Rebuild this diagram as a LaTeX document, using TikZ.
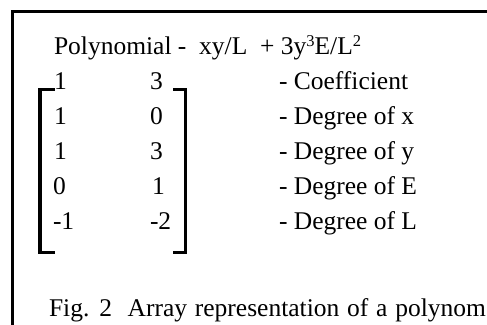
\documentclass[tikz,border=0pt]{standalone}
\usepackage{fontspec}
\setmainfont{Liberation Serif}
\newcommand{\mysup}[1]{\raisebox{7.5pt}{\fontsize{16.5}{16.5}\selectfont #1}}
\begin{document}
\begin{tikzpicture}[x=1pt,y=-1pt,
  txt/.style={anchor=base west,inner sep=0pt,outer sep=0pt,font=\fontsize{25.5}{30}\selectfont},
  frame/.style={line width=2.9pt,line cap=rect},
  brack/.style={line width=3.3pt,line cap=rect,line join=miter}]
\useasboundingbox (0,0) rectangle (487,324);
\clip (0,0) rectangle (487,324);
\draw[frame] (12.5,340) -- (12.5,11.4) -- (500,11.4);
\node[txt] (poly) at (54,54) {Polynomial -\ \ xy/L\ \ + 3y\mysup{3}E/L\mysup{2}};
% column 1
\node[txt] (a1) at (54,89.5) {1};
\node[txt] (a2) at (54,124.5) {1};
\node[txt] (a3) at (54,159.5) {1};
\node[txt] (a4) at (53,194.5) {0};
\node[txt] (a5) at (53,229.5) {-1};
% column 2
\node[txt] (b1) at (150,89.5) {3};
\node[txt] (b2) at (150,124.5) {0};
\node[txt] (b3) at (150,159.5) {3};
\node[txt] (b4) at (152,194.5) {1};
\node[txt] (b5) at (150,229.5) {-2};
% labels
\node[txt] (l1) at (279,89.5) {- Coefficient};
\node[txt] (l2) at (279,124.5) {- Degree of x};
\node[txt] (l3) at (279,159.5) {- Degree of y};
\node[txt] (l4) at (279,194.5) {- Degree of E};
\node[txt] (l5) at (279,229.5) {- Degree of L};
% brackets
\draw[brack] (53,89.5) -- (40,89.5) -- (40,252.5) -- (53,252.5);
\draw[brack] (175,89.5) -- (185.5,89.5) -- (185.5,252.5) -- (175,252.5);
% caption
\node[txt] (cap) at (49,316) {\spaceskip=7.8pt plus 1pt Fig. 2\ \ Array representation of a polynom};
\end{tikzpicture}
\end{document}
